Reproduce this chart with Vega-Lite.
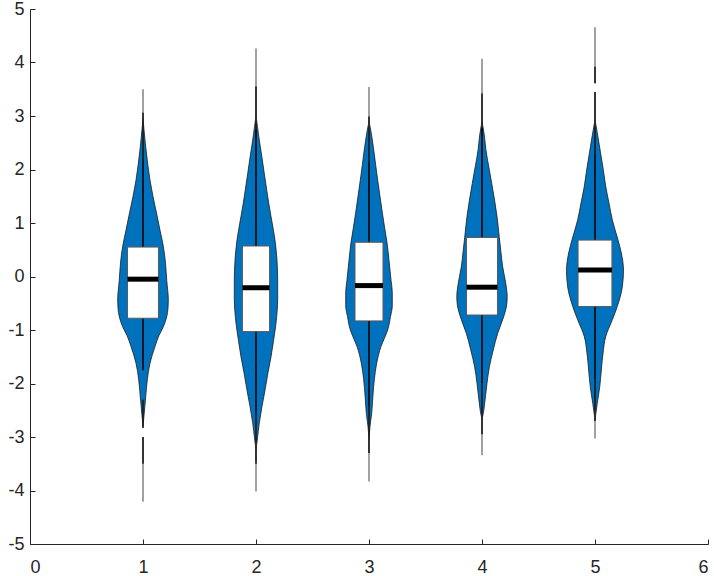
{
  "$schema": "https://vega.github.io/schema/vega-lite/v6.json",
  "width": 678,
  "height": 535,
  "autosize": {"type": "none"},
  "padding": {"left": 30, "top": 9, "right": 6, "bottom": 32},
  "background": "white",
  "config": {
    "view": {"stroke": null},
    "axis": {
      "grid": false,
      "domainColor": "#262626",
      "domainWidth": 1,
      "tickColor": "#262626",
      "tickWidth": 1,
      "tickSize": -5,
      "labelFont": "Liberation Sans",
      "labelFontSize": 18,
      "labelColor": "#262626",
      "labelExpr": "toString(datum.value)",
      "title": null
    }
  },
  "datasets": {
    "violins": [
      {"g": 1, "y": 2.95, "lo": 1.000, "hi": 1.000},
      {"g": 1, "y": 2.74, "lo": 0.991, "hi": 1.009},
      {"g": 1, "y": 2.42, "lo": 0.976, "hi": 1.024},
      {"g": 1, "y": 2.1, "lo": 0.958, "hi": 1.042},
      {"g": 1, "y": 1.8, "lo": 0.938, "hi": 1.062},
      {"g": 1, "y": 1.5, "lo": 0.912, "hi": 1.088},
      {"g": 1, "y": 1.19, "lo": 0.881, "hi": 1.119},
      {"g": 1, "y": 0.87, "lo": 0.850, "hi": 1.150},
      {"g": 1, "y": 0.56, "lo": 0.820, "hi": 1.180},
      {"g": 1, "y": 0.25, "lo": 0.801, "hi": 1.199},
      {"g": 1, "y": -0.07, "lo": 0.790, "hi": 1.210},
      {"g": 1, "y": -0.44, "lo": 0.776, "hi": 1.224},
      {"g": 1, "y": -0.6, "lo": 0.779, "hi": 1.221},
      {"g": 1, "y": -0.75, "lo": 0.790, "hi": 1.210},
      {"g": 1, "y": -0.94, "lo": 0.820, "hi": 1.180},
      {"g": 1, "y": -1.1, "lo": 0.858, "hi": 1.142},
      {"g": 1, "y": -1.31, "lo": 0.894, "hi": 1.106},
      {"g": 1, "y": -1.62, "lo": 0.938, "hi": 1.062},
      {"g": 1, "y": -1.93, "lo": 0.962, "hi": 1.038},
      {"g": 1, "y": -2.25, "lo": 0.976, "hi": 1.024},
      {"g": 1, "y": -2.55, "lo": 0.989, "hi": 1.011},
      {"g": 1, "y": -2.8, "lo": 1.000, "hi": 1.000},

      {"g": 2, "y": 3.0, "lo": 2.000, "hi": 2.000},
      {"g": 2, "y": 2.8, "lo": 1.987, "hi": 2.013},
      {"g": 2, "y": 2.55, "lo": 1.971, "hi": 2.029},
      {"g": 2, "y": 2.25, "lo": 1.949, "hi": 2.051},
      {"g": 2, "y": 1.93, "lo": 1.927, "hi": 2.073},
      {"g": 2, "y": 1.6, "lo": 1.904, "hi": 2.096},
      {"g": 2, "y": 1.3, "lo": 1.882, "hi": 2.118},
      {"g": 2, "y": 1.0, "lo": 1.857, "hi": 2.143},
      {"g": 2, "y": 0.68, "lo": 1.832, "hi": 2.168},
      {"g": 2, "y": 0.3, "lo": 1.814, "hi": 2.186},
      {"g": 2, "y": -0.1, "lo": 1.808, "hi": 2.192},
      {"g": 2, "y": -0.4, "lo": 1.808, "hi": 2.192},
      {"g": 2, "y": -0.87, "lo": 1.823, "hi": 2.177},
      {"g": 2, "y": -1.2, "lo": 1.845, "hi": 2.155},
      {"g": 2, "y": -1.5, "lo": 1.867, "hi": 2.133},
      {"g": 2, "y": -1.8, "lo": 1.894, "hi": 2.106},
      {"g": 2, "y": -2.12, "lo": 1.920, "hi": 2.080},
      {"g": 2, "y": -2.43, "lo": 1.947, "hi": 2.053},
      {"g": 2, "y": -2.74, "lo": 1.971, "hi": 2.029},
      {"g": 2, "y": -3.06, "lo": 1.989, "hi": 2.011},
      {"g": 2, "y": -3.24, "lo": 2.000, "hi": 2.000},

      {"g": 3, "y": 2.9, "lo": 3.000, "hi": 3.000},
      {"g": 3, "y": 2.7, "lo": 2.982, "hi": 3.018},
      {"g": 3, "y": 2.43, "lo": 2.962, "hi": 3.038},
      {"g": 3, "y": 2.1, "lo": 2.942, "hi": 3.058},
      {"g": 3, "y": 1.8, "lo": 2.923, "hi": 3.077},
      {"g": 3, "y": 1.5, "lo": 2.903, "hi": 3.097},
      {"g": 3, "y": 1.19, "lo": 2.882, "hi": 3.118},
      {"g": 3, "y": 0.9, "lo": 2.861, "hi": 3.139},
      {"g": 3, "y": 0.64, "lo": 2.841, "hi": 3.159},
      {"g": 3, "y": 0.3, "lo": 2.823, "hi": 3.177},
      {"g": 3, "y": -0.07, "lo": 2.805, "hi": 3.195},
      {"g": 3, "y": -0.3, "lo": 2.794, "hi": 3.206},
      {"g": 3, "y": -0.55, "lo": 2.794, "hi": 3.206},
      {"g": 3, "y": -0.75, "lo": 2.810, "hi": 3.190},
      {"g": 3, "y": -1.0, "lo": 2.835, "hi": 3.165},
      {"g": 3, "y": -1.15, "lo": 2.863, "hi": 3.137},
      {"g": 3, "y": -1.31, "lo": 2.894, "hi": 3.106},
      {"g": 3, "y": -1.62, "lo": 2.932, "hi": 3.068},
      {"g": 3, "y": -1.93, "lo": 2.953, "hi": 3.047},
      {"g": 3, "y": -2.25, "lo": 2.966, "hi": 3.034},
      {"g": 3, "y": -2.55, "lo": 2.976, "hi": 3.024},
      {"g": 3, "y": -2.8, "lo": 2.991, "hi": 3.009},
      {"g": 3, "y": -3.06, "lo": 3.000, "hi": 3.000},

      {"g": 4, "y": 2.9, "lo": 4.000, "hi": 4.000},
      {"g": 4, "y": 2.65, "lo": 3.980, "hi": 4.020},
      {"g": 4, "y": 2.36, "lo": 3.965, "hi": 4.035},
      {"g": 4, "y": 2.05, "lo": 3.940, "hi": 4.060},
      {"g": 4, "y": 1.74, "lo": 3.914, "hi": 4.086},
      {"g": 4, "y": 1.43, "lo": 3.889, "hi": 4.111},
      {"g": 4, "y": 1.12, "lo": 3.867, "hi": 4.133},
      {"g": 4, "y": 0.73, "lo": 3.847, "hi": 4.153},
      {"g": 4, "y": 0.45, "lo": 3.832, "hi": 4.168},
      {"g": 4, "y": 0.18, "lo": 3.817, "hi": 4.183},
      {"g": 4, "y": -0.1, "lo": 3.792, "hi": 4.208},
      {"g": 4, "y": -0.38, "lo": 3.777, "hi": 4.223},
      {"g": 4, "y": -0.55, "lo": 3.783, "hi": 4.217},
      {"g": 4, "y": -0.75, "lo": 3.808, "hi": 4.192},
      {"g": 4, "y": -1.06, "lo": 3.861, "hi": 4.139},
      {"g": 4, "y": -1.37, "lo": 3.900, "hi": 4.100},
      {"g": 4, "y": -1.69, "lo": 3.935, "hi": 4.065},
      {"g": 4, "y": -2.0, "lo": 3.956, "hi": 4.044},
      {"g": 4, "y": -2.31, "lo": 3.973, "hi": 4.027},
      {"g": 4, "y": -2.5, "lo": 3.984, "hi": 4.016},
      {"g": 4, "y": -2.68, "lo": 4.000, "hi": 4.000},

      {"g": 5, "y": 2.93, "lo": 5.000, "hi": 5.000},
      {"g": 5, "y": 2.6, "lo": 4.973, "hi": 5.027},
      {"g": 5, "y": 2.3, "lo": 4.950, "hi": 5.050},
      {"g": 5, "y": 2.0, "lo": 4.927, "hi": 5.073},
      {"g": 5, "y": 1.68, "lo": 4.905, "hi": 5.095},
      {"g": 5, "y": 1.37, "lo": 4.876, "hi": 5.124},
      {"g": 5, "y": 1.06, "lo": 4.847, "hi": 5.153},
      {"g": 5, "y": 0.68, "lo": 4.796, "hi": 5.204},
      {"g": 5, "y": 0.44, "lo": 4.767, "hi": 5.233},
      {"g": 5, "y": 0.12, "lo": 4.748, "hi": 5.252},
      {"g": 5, "y": -0.19, "lo": 4.758, "hi": 5.242},
      {"g": 5, "y": -0.56, "lo": 4.803, "hi": 5.197},
      {"g": 5, "y": -0.81, "lo": 4.847, "hi": 5.153},
      {"g": 5, "y": -1.12, "lo": 4.905, "hi": 5.095},
      {"g": 5, "y": -1.43, "lo": 4.929, "hi": 5.071},
      {"g": 5, "y": -1.75, "lo": 4.944, "hi": 5.056},
      {"g": 5, "y": -2.06, "lo": 4.958, "hi": 5.042},
      {"g": 5, "y": -2.37, "lo": 4.980, "hi": 5.020},
      {"g": 5, "y": -2.68, "lo": 5.000, "hi": 5.000}
    ],
    "lines": [
      {"g": 1, "y1": -4.21, "y2": -3.0, "kind": "tail"},
      {"g": 1, "y1": 2.9, "y2": 3.5, "kind": "tail"},
      {"g": 1, "y1": -3.5, "y2": -3.0, "kind": "dense"},
      {"g": 1, "y1": -2.83, "y2": -2.3, "kind": "dense"},
      {"g": 1, "y1": 2.21, "y2": 3.06, "kind": "dense"},
      {"g": 1, "y1": -1.75, "y2": 2.21, "kind": "whisker"},

      {"g": 2, "y1": -4.02, "y2": -3.1, "kind": "tail"},
      {"g": 2, "y1": 2.9, "y2": 4.26, "kind": "tail"},
      {"g": 2, "y1": -3.5, "y2": -2.53, "kind": "dense"},
      {"g": 2, "y1": 2.6, "y2": 3.55, "kind": "dense"},
      {"g": 2, "y1": -2.53, "y2": 2.74, "kind": "whisker"},

      {"g": 3, "y1": -3.83, "y2": -3.0, "kind": "tail"},
      {"g": 3, "y1": 2.8, "y2": 3.54, "kind": "tail"},
      {"g": 3, "y1": -3.3, "y2": -2.43, "kind": "dense"},
      {"g": 3, "y1": 2.15, "y2": 2.99, "kind": "dense"},
      {"g": 3, "y1": -2.43, "y2": 2.15, "kind": "whisker"},

      {"g": 4, "y1": -3.34, "y2": -2.6, "kind": "tail"},
      {"g": 4, "y1": 2.8, "y2": 4.07, "kind": "tail"},
      {"g": 4, "y1": -2.95, "y2": -2.0, "kind": "dense"},
      {"g": 4, "y1": 2.75, "y2": 3.42, "kind": "dense"},
      {"g": 4, "y1": -2.0, "y2": 2.77, "kind": "whisker"},

      {"g": 5, "y1": -3.03, "y2": -2.5, "kind": "tail"},
      {"g": 5, "y1": 2.8, "y2": 3.45, "kind": "tail"},
      {"g": 5, "y1": 3.61, "y2": 4.66, "kind": "tail"},
      {"g": 5, "y1": -2.7, "y2": -1.92, "kind": "dense"},
      {"g": 5, "y1": 2.3, "y2": 3.45, "kind": "dense"},
      {"g": 5, "y1": 3.61, "y2": 3.92, "kind": "dense"},
      {"g": 5, "y1": -1.92, "y2": 2.3, "kind": "whisker"}
    ],
    "boxes": [
      {"g": 1, "q1": -0.78, "q3": 0.55, "med": -0.05, "bx1": 0.863, "bx2": 1.137},
      {"g": 2, "q1": -1.03, "q3": 0.57, "med": -0.21, "bx1": 1.880, "bx2": 2.120},
      {"g": 3, "q1": -0.83, "q3": 0.64, "med": -0.17, "bx1": 2.876, "bx2": 3.124},
      {"g": 4, "q1": -0.72, "q3": 0.73, "med": -0.20, "bx1": 3.863, "bx2": 4.137},
      {"g": 5, "q1": -0.56, "q3": 0.68, "med": 0.12, "bx1": 4.850, "bx2": 5.150}
    ]
  },
  "layer": [
    {
      "data": {"name": "violins"},
      "mark": {"type": "area", "orient": "horizontal", "interpolate": "monotone", "fill": "#0072BD", "fillOpacity": 1, "stroke": "#1a1a1a", "strokeWidth": 0.8},
      "encoding": {
        "y": {"field": "y", "type": "quantitative", "scale": {"domain": [-5, 5], "nice": false}, "axis": {"values": [-5, -4, -3, -2, -1, 0, 1, 2, 3, 4, 5], "labelPadding": 11}},
        "x": {"field": "lo", "type": "quantitative", "scale": {"domain": [0, 6], "nice": false}, "axis": {"values": [0, 1, 2, 3, 4, 5, 6], "labelPadding": 19}},
        "x2": {"field": "hi"},
        "detail": {"field": "g", "type": "nominal"}
      }
    },
    {
      "data": {"name": "lines"},
      "mark": {"type": "rule"},
      "encoding": {
        "x": {"field": "g", "type": "quantitative"},
        "y": {"field": "y1", "type": "quantitative"},
        "y2": {"field": "y2"},
        "color": {"field": "kind", "type": "nominal", "scale": {"domain": ["tail", "dense", "whisker"], "range": ["#8a8a8a", "#1a1a1a", "#000000"]}, "legend": null},
        "strokeWidth": {"field": "kind", "type": "nominal", "scale": {"domain": ["tail", "dense", "whisker"], "range": [1.6, 1.6, 2.6]}, "legend": null}
      }
    },
    {
      "data": {"name": "boxes"},
      "mark": {"type": "rect", "fill": "white", "stroke": "#5a5a5a", "strokeWidth": 1},
      "encoding": {
        "x": {"field": "bx1", "type": "quantitative"},
        "x2": {"field": "bx2"},
        "y": {"field": "q1", "type": "quantitative"},
        "y2": {"field": "q3"}
      }
    },
    {
      "data": {"name": "boxes"},
      "mark": {"type": "rule", "color": "black", "strokeWidth": 5},
      "encoding": {
        "x": {"field": "bx1", "type": "quantitative"},
        "x2": {"field": "bx2"},
        "y": {"field": "med", "type": "quantitative"}
      }
    }
  ]
}
